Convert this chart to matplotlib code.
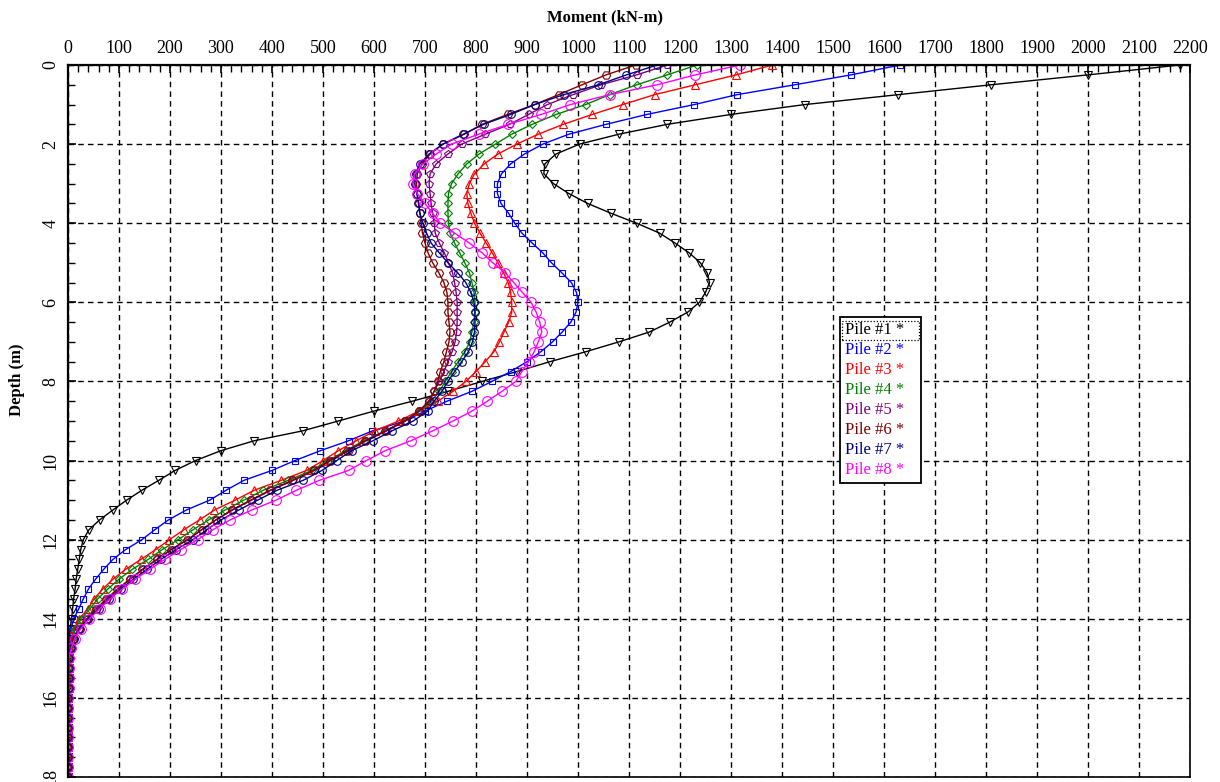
import numpy as np
import matplotlib.pyplot as plt
from matplotlib.ticker import MultipleLocator
from matplotlib.patches import Rectangle

plt.rcParams['font.family'] = ['Liberation Serif', 'DejaVu Serif']

# depth stations along the pile (m)
depth = np.arange(0, 18.25, 0.25)

# bending moment (kN-m) at each station, 0 m .. 18 m
pile1 = [2180, 2000, 1810, 1628, 1445, 1300, 1175, 1080,
         1003, 957, 935, 933, 952, 982, 1019, 1065,
         1115, 1160, 1190, 1218, 1240, 1253, 1258, 1250,
         1238, 1215, 1180, 1140, 1080, 1015, 945, 880,
         812, 745, 675, 600, 530, 460, 365, 300,
         250, 210, 178, 145, 115, 88, 62, 41,
         30, 25, 22, 19, 16, 14, 11, 9,
         7, 4, 3, 2, 1,
         1, 1, 0, 0, 0, 0, 0, 0, 0, 0, 0, 0]
pile2 = [1632, 1535, 1425, 1312, 1228, 1135, 1055, 982,
         931, 895, 868, 850, 842, 842, 849, 864,
         876, 890, 910, 931, 948, 968, 987, 997,
         1000, 996, 986, 969, 950, 927, 900, 868,
         831, 792, 743, 700, 660, 597, 550, 495,
         445, 400, 345, 310, 278, 232, 197, 170,
         145, 113, 88, 70, 54, 40, 30, 21,
         11, 6, 3, 2, 1,
         1, 1, 1, 0, 0, 0, 0, 0, 0, 0, 0, 0]
pile3 = [1381, 1310, 1230, 1150, 1088, 1028, 971, 922,
         880, 843, 816, 797, 787, 782, 784, 790,
         797, 808, 820, 832, 843, 854, 863, 868,
         870, 870, 864, 855, 846, 835, 818, 800,
         780, 755, 725, 688, 648, 602, 565, 530,
         500, 468, 418, 365, 328, 287, 258, 227,
         199, 172, 143, 113, 88, 68, 51, 39,
         22, 12, 6, 3, 1,
         1, 1, 1, 0, 0, 0, 0, 0, 0, 0, 0, 0]
pile4 = [1233, 1175, 1115, 1062, 1015, 957, 910, 870,
         838, 806, 782, 765, 752, 746, 745, 745,
         746, 749, 758, 768, 778, 787, 792, 796,
         798, 798, 796, 792, 788, 778, 765, 752,
         740, 728, 712, 690, 660, 622, 580, 545,
         510, 478, 432, 383, 345, 308, 276, 245,
         216, 185, 157, 126, 100, 78, 58, 43,
         26, 14, 7, 3, 1,
         1, 1, 1, 0, 0, 0, 0, 0, 0, 0, 0, 0]
pile5 = [1175, 1115, 1045, 990, 940, 903, 866, 818,
         772, 745, 722, 710, 708, 710, 712, 715,
         718, 720, 728, 738, 746, 754, 758, 761,
         763, 763, 763, 762, 759, 753, 745, 737,
         728, 718, 708, 688, 662, 625, 585, 550,
         515, 483, 442, 398, 360, 323, 290, 262,
         235, 203, 175, 147, 122, 98, 76, 56,
         38, 22, 11, 5, 2,
         1, 1, 1, 0, 0, 0, 0, 0, 0, 0, 0, 0]
pile6 = [1113, 1055, 1008, 962, 915, 862, 812, 777,
         735, 710, 694, 685, 683, 685, 688, 690,
         693, 695, 700, 706, 715, 727, 737, 743,
         745, 745, 747, 749, 747, 742, 737, 730,
         725, 718, 708, 688, 660, 622, 583, 548,
         514, 482, 440, 396, 358, 321, 290, 262,
         234, 202, 174, 146, 121, 97, 75, 55,
         37, 21, 10, 5, 2,
         1, 1, 1, 0, 0, 0, 0, 0, 0, 0, 0, 0]
pile7 = [1155, 1095, 1040, 972, 915, 868, 815, 775,
         735, 708, 690, 682, 680, 684, 687, 690,
         696, 703, 712, 728, 745, 764, 780, 790,
         796, 798, 798, 797, 793, 785, 772, 758,
         745, 733, 718, 705, 677, 635, 598, 556,
         527, 498, 461, 410, 372, 335, 300, 272,
         245, 212, 182, 155, 128, 103, 80, 60,
         40, 23, 12, 5, 2,
         1, 1, 1, 0, 0, 0, 0, 0, 0, 0, 0, 0]
pile8 = [1318, 1230, 1155, 1062, 985, 928, 863, 805,
         752, 722, 696, 680, 676, 685, 700, 715,
         730, 758, 787, 812, 833, 857, 874, 891,
         908, 918, 925, 929, 922, 914, 903, 890,
         878, 851, 822, 792, 755, 715, 672, 622,
         585, 550, 493, 448, 408, 360, 318, 284,
         254, 221, 190, 160, 132, 106, 82, 62,
         42, 25, 13, 6, 2,
         1, 1, 1, 0, 0, 0, 0, 0, 0, 0, 0, 0]

piles = [pile1, pile2, pile3, pile4, pile5, pile6, pile7, pile8]
labels = ["Pile #%d *" % (i + 1) for i in range(8)]
colors = ["#000000", "#0000ff", "#ff0000", "#008000",
          "#800080", "#800000", "#000080", "#ff00ff"]
markers = ["v", "s", "^", "D", "p", "H", "o", "o"]
msizes = [6, 5, 5.5, 4.5, 6, 6, 5.5, 7]

fig = plt.figure(figsize=(12.2, 7.82), dpi=100)
ax = fig.add_axes([68 / 1220, 1 - 777 / 782, 1122 / 1220, 712 / 782])

for m, lab, c, mk, ms in zip(piles, labels, colors, markers, msizes):
    ax.plot(m, depth, color=c, lw=1.0, marker=mk, ms=ms, mfc="none",
            mec=c, mew=0.8, label=lab)

ax.set_xlim(0, 2200)
ax.set_ylim(18, 0)

ax.xaxis.tick_top()
ax.xaxis.set_major_locator(MultipleLocator(100))
ax.xaxis.set_minor_locator(MultipleLocator(20))
ax.yaxis.set_major_locator(MultipleLocator(2))
ax.yaxis.set_minor_locator(MultipleLocator(0.5))
ax.tick_params(axis="x", which="both", direction="in", top=True, bottom=False,
               labeltop=True, labelbottom=False, labelsize=13, pad=6)
ax.tick_params(axis="y", which="both", direction="in", left=True, right=False,
               labelsize=13, pad=6)
ax.tick_params(which="major", length=6, width=1.2)
ax.tick_params(which="minor", length=5, width=1.0)
for t in ax.get_yticklabels():
    t.set_rotation(90)
    t.set_va("center")
    t.set_ha("right")

ax.grid(True, which="major", color="black", linestyle=(0, (4, 3)), lw=1.0)

for side in ["top", "left"]:
    ax.spines[side].set_linewidth(1.6)
for side in ["right", "bottom"]:
    ax.spines[side].set_linewidth(1.2)

fig.text(605 / 1220, 1 - 17 / 782, "Moment (kN-m)", ha="center", va="center",
         fontsize=12, fontweight="bold")
fig.text(17 / 1220, 1 - 380 / 782, "Depth (m)", ha="center", va="center",
         rotation=90, fontsize=12, fontweight="bold")

# legend with text only; the empty handle slot sits on the right
leg = ax.legend(loc="upper left", bbox_to_anchor=(0.688, 0.646), fontsize=12,
                handlelength=0.7, handletextpad=0, markerfirst=False,
                borderpad=0.3, labelspacing=0.24, fancybox=False,
                framealpha=1, edgecolor="black", borderaxespad=0)
leg.get_frame().set_linewidth(1.3)
for h in leg.legend_handles:
    h.set_visible(False)
for t, c in zip(leg.get_texts(), colors):
    t.set_color(c)

# dotted selection box around the first entry
fig.canvas.draw()
fb = leg.get_frame().get_window_extent()
tb = leg.get_texts()[0].get_window_extent()
sel = Rectangle((fb.x0 + 2, tb.y0 - 2), fb.width - 4, tb.height + 3,
                transform=None, fill=False, ec="black", lw=0.9,
                ls=(0, (1, 1.5)), zorder=10)
fig.add_artist(sel)

fig.savefig("out.png", dpi=100)
